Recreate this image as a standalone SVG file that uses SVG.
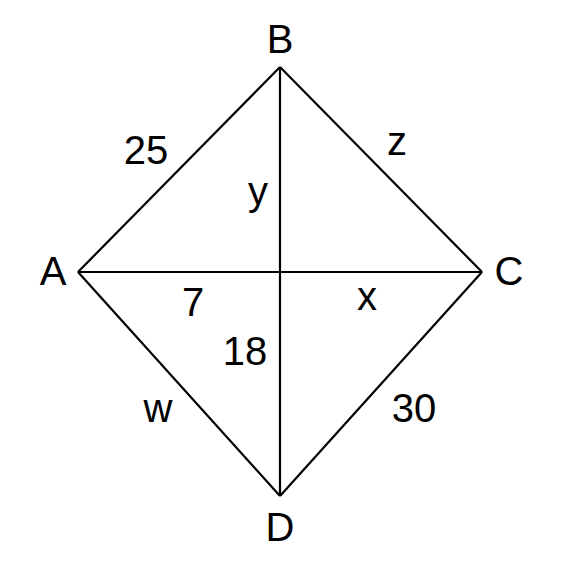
<svg xmlns="http://www.w3.org/2000/svg" width="579" height="567" viewBox="0 0 579 567">
<style>
.e{stroke:#000;stroke-width:2.2;fill:none;stroke-linejoin:miter}
text{font-family:"Liberation Sans",Arial,sans-serif;font-size:40px;fill:#000;text-anchor:middle}
</style>
<rect width="579" height="567" fill="#fff"/>
<g id="connectors">
<line class="e" x1="78" y1="272" x2="280" y2="67"/>
<line class="e" x1="280" y1="67" x2="482" y2="272"/>
<line class="e" x1="482" y1="272" x2="280" y2="496"/>
<line class="e" x1="280" y1="496" x2="78" y2="272"/>
<line class="e" x1="78" y1="272" x2="482" y2="272"/>
<line class="e" x1="280" y1="67" x2="280" y2="496"/>
</g>
<g id="A"><text x="53" y="285">A</text></g>
<g id="B"><text x="280" y="53">B</text></g>
<g id="C"><text x="509" y="285">C</text></g>
<g id="D"><text x="280" y="541">D</text></g>
<g id="labels">
<text x="146" y="164">25</text>
<text x="397" y="155">z</text>
<text x="258" y="205">y</text>
<text x="193" y="316">7</text>
<text x="367" y="310">x</text>
<text x="245" y="365">18</text>
<text x="158" y="422">w</text>
<text x="414" y="422">30</text>
</g>
</svg>
